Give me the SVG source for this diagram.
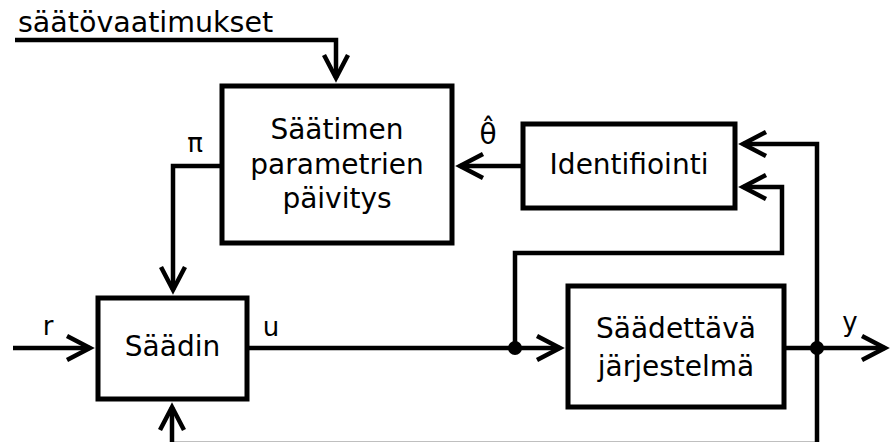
<svg xmlns="http://www.w3.org/2000/svg" width="891" height="442" viewBox="0 0 891 442">
  <style>
    .box { fill: #fff; stroke: #000; stroke-width: 5; }
    .wire { fill: none; stroke: #000; stroke-width: 4.5; }
    .txt { font-family: "DejaVu Sans", sans-serif; font-size: 28px; fill: #000; text-anchor: middle; }
    .lbl { font-family: "DejaVu Sans", sans-serif; font-size: 26px; fill: #000; text-anchor: middle; }
  </style>
  <defs>
    <marker id="arrow" markerUnits="userSpaceOnUse" orient="auto" overflow="visible" refX="0" refY="0" markerWidth="30" markerHeight="30">
      <path d="M-23,-12 L0,0 L-23,12" fill="none" stroke="#000" stroke-width="4.5"/>
    </marker>
  </defs>

  <!-- connectors -->
  <g id="connectors">
    <path class="wire" d="M15,40 H336 V78" marker-end="url(#arrow)"/>
    <path class="wire" d="M222,166 H173 V290" marker-end="url(#arrow)"/>
    <path class="wire" d="M523,166 H460" marker-end="url(#arrow)"/>
    <path class="wire" d="M817,348 V144 H743" marker-end="url(#arrow)"/>
    <path class="wire" d="M515,348 V253 H782 V187 H743" marker-end="url(#arrow)"/>
    <path class="wire" d="M817,348 V444 H172 V407" marker-end="url(#arrow)"/>
    <path class="wire" d="M13,348 H90" marker-end="url(#arrow)"/>
    <path class="wire" d="M247,348 H560" marker-end="url(#arrow)"/>
    <path class="wire" d="M784,348 H885" marker-end="url(#arrow)"/>
    <circle cx="515" cy="348" r="7" fill="#000"/>
    <circle cx="817" cy="348" r="7" fill="#000"/>
    <text x="18" y="32" class="txt" style="text-anchor:start;font-size:28.5px">säätövaatimukset</text>
    <text x="195" y="152" class="lbl">π</text>
    <text x="488" y="144" class="lbl" style="font-size:28px">θ̂</text>
    <text x="48" y="335" class="lbl">r</text>
    <text x="271" y="336" class="lbl">u</text>
    <text x="850" y="331" class="lbl">y</text>
  </g>

  <g id="paivitys">
    <rect class="box" x="222" y="86" width="230" height="157"/>
    <text class="txt" x="337" y="139">Säätimen</text>
    <text class="txt" x="337" y="174">parametrien</text>
    <text class="txt" x="337" y="208">päivitys</text>
  </g>

  <g id="identifiointi">
    <rect class="box" x="523" y="124" width="212" height="84"/>
    <text class="txt" x="629" y="174">Identifiointi</text>
  </g>

  <g id="saadin">
    <rect class="box" x="98" y="298" width="149" height="101"/>
    <text class="txt" x="172.5" y="356">Säädin</text>
  </g>

  <g id="prosessi">
    <rect class="box" x="568" y="286" width="216" height="121"/>
    <text class="txt" x="676" y="338">Säädettävä</text>
    <text class="txt" x="676" y="376">järjestelmä</text>
  </g>
</svg>
